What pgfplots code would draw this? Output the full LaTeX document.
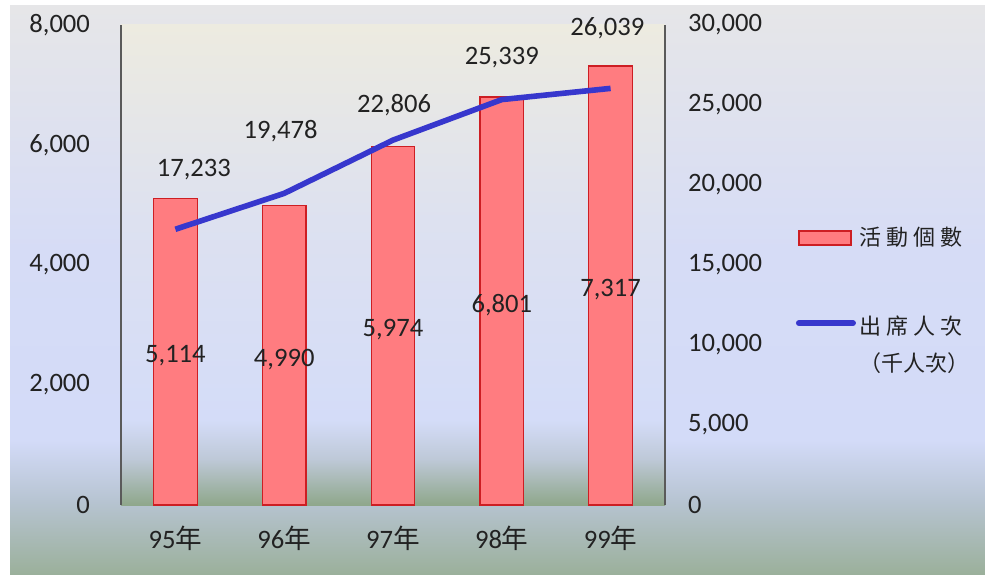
\documentclass[border=0pt]{standalone}
\usepackage{fontspec}
\setmainfont{Carlito}
\newfontfamily\cjk{Noto Sans CJK TC}
\newfontfamily\cjkleg[LetterSpace=22]{Noto Sans CJK TC}
\usepackage{pgfplots}
\usepackage{pgfplotstable}
\pgfplotsset{compat=1.18}

\definecolor{barfill}{RGB}{255,124,128}
\definecolor{baredge}{RGB}{205,30,35}
\definecolor{lineblue}{RGB}{55,55,205}
\definecolor{txt}{RGB}{34,34,34}
\definecolor{axgray}{RGB}{90,90,90}
% outer background
\definecolor{oA}{RGB}{230,230,232}
\definecolor{oB}{RGB}{214,220,246}
\definecolor{oC}{RGB}{211,219,248}
\definecolor{oD}{RGB}{183,196,210}
\definecolor{oE}{RGB}{155,176,155}
% plot area
\definecolor{pA}{RGB}{237,235,224}
\definecolor{pB}{RGB}{221,225,240}
\definecolor{pC}{RGB}{212,220,248}
\definecolor{pD}{RGB}{189,200,214}
\definecolor{pE}{RGB}{143,167,139}

\pgfplotstableread{
x y
0 5114
1 4990
2 5974
3 6801
4 7317
}\actdata

% lx, ly: where the value label sits
\pgfplotstableread{
x y lx ly
0 17233 0.17 20937
1 19478 0.967 23375
2 22806 2.01 25000
3 25339 3.0 27937
4 26039 3.97 29812
}\attdata

\pgfplotsset{
  /pgf/number format/.cd, 1000 sep={,}, assume math mode=true,
  /pgfplots/.cd,
  chartbase/.style={
    scale only axis, width=272pt, height=240pt,
    at={(60.5pt,34.5pt)}, anchor=south west,
    xmin=-0.5, xmax=4.5, clip=false,
    scaled ticks=false,
    tick style={draw=none},
    ticklabel style={font=\fontsize{13.3}{16}\selectfont, text=txt},
  },
}

\begin{document}
\begin{tikzpicture}
\useasboundingbox (0pt,0pt) rectangle (492.5pt,287pt);
% outer background
\shade[top color=oA, bottom color=oB] (5pt,161.5pt) rectangle (492.5pt,284pt);
\shade[top color=oB, bottom color=oC] (5pt,66.5pt) rectangle (492.5pt,162pt);
\shade[top color=oC, bottom color=oD] (5pt,36.5pt) rectangle (492.5pt,67pt);
\shade[top color=oD, bottom color=oE] (5pt,0pt) rectangle (492.5pt,37pt);
% plot area
\shade[top color=pA, bottom color=pB] (60.5pt,176.5pt) rectangle (332.5pt,274.5pt);
\shade[top color=pB, bottom color=pC] (60.5pt,76.5pt) rectangle (332.5pt,177pt);
\shade[top color=pC, bottom color=pD] (60.5pt,56.5pt) rectangle (332.5pt,77pt);
\shade[top color=pD, bottom color=pE] (60.5pt,34.5pt) rectangle (332.5pt,57pt);

\begin{axis}[
  chartbase,
  ymin=0, ymax=8000, ytick={0,2000,4000,6000,8000},
  axis y line*=left, axis x line*=bottom,
  x axis line style={draw=none},
  y axis line style={draw=axgray, line width=0.8pt},
  xtick={0,1,2,3,4},
  xticklabels={{95{\cjk 年}},{96{\cjk 年}},{97{\cjk 年}},{98{\cjk 年}},{99{\cjk 年}}},
  xticklabel style={yshift=-7pt},
  yticklabel style={xshift=-12pt},
]
  \addplot[ybar, bar width=21.8pt, fill=barfill, draw=baredge, line width=0.6pt]
    table[x=x, y=y] {\actdata};
  \addplot[draw=none, mark=none, forget plot, nodes near coords,
    point meta=\thisrow{y},
    nodes near coords style={anchor=center, yshift=-2pt, font=\fontsize{13.3}{16}\selectfont, text=txt}]
    table[x=x, y expr=\thisrow{y}/2] {\actdata};
\end{axis}

\begin{axis}[
  chartbase,
  ymin=0, ymax=30000, ytick={0,5000,10000,15000,20000,25000,30000},
  axis y line*=right, axis x line=none,
  y axis line style={draw=axgray, line width=0.8pt},
  yticklabel style={xshift=8pt},
  legend style={at={(1.24,0.588)}, anchor=north west, draw=none, fill=none,
    inner sep=0pt, row sep=26pt,
    font=\cjkleg\fontsize{11}{18.5}\selectfont, text=txt,
    /tikz/every even column/.append style={column sep=1pt}},
  legend cell align=left,
]
  \addlegendimage{legend image code/.code={\draw[fill=barfill, draw=baredge, line width=0.6pt] (0pt,-3.5pt) rectangle (26pt,3.5pt);}}
  \addlegendentry{活動個數}
  \addplot[lineblue, line width=2.8pt, mark=none,
    legend image code/.code={\draw[lineblue, line width=3pt, line cap=round] (0pt,0pt) -- (27pt,0pt);}]
    table[x=x, y=y] {\attdata};
  \addlegendentry{\begin{tabular}[t]{@{}l@{}}出席人次\\{\cjk （千人次）}\end{tabular}}
  \addplot[draw=none, mark=none, forget plot, nodes near coords,
    point meta=\thisrow{y},
    nodes near coords style={anchor=center, font=\fontsize{13.3}{16}\selectfont, text=txt}]
    table[x=lx, y=ly] {\attdata};
\end{axis}
\end{tikzpicture}
\end{document}
